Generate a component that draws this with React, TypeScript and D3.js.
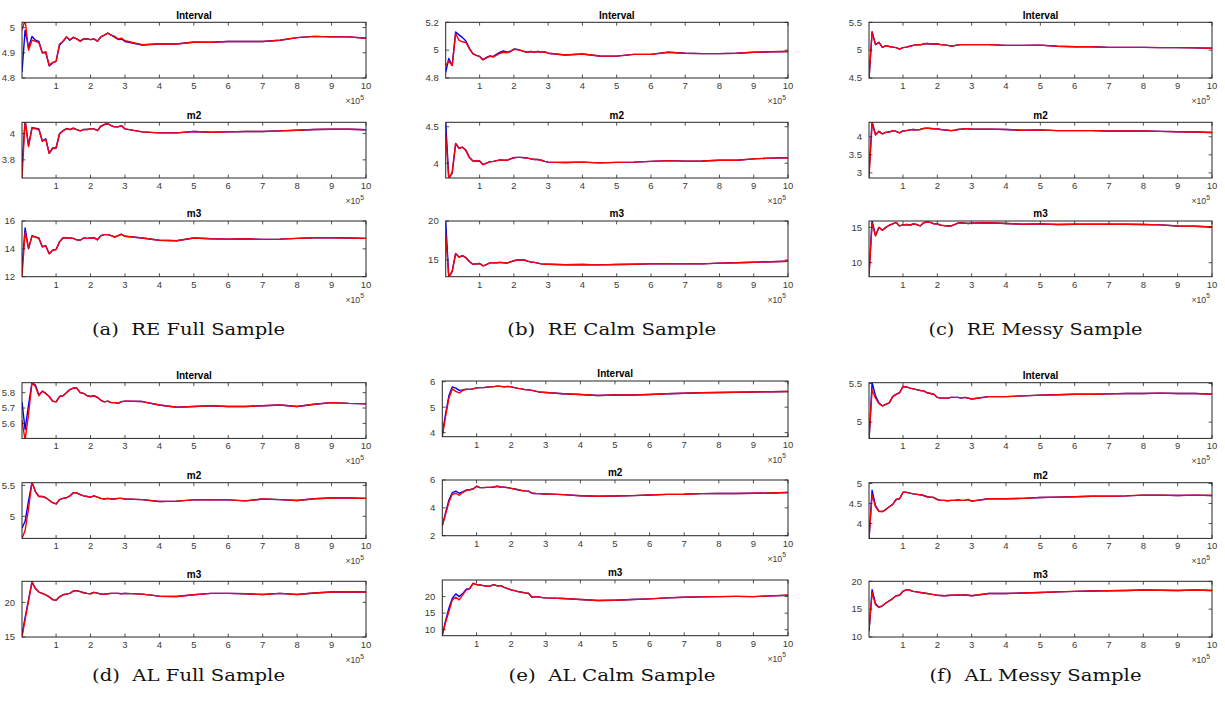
import React from "react";
import * as d3 from "d3";

// ---------- shared x samples ----------
const X = [1000, 10000, 20000, 30000, 40000, 50000, 60000, 70000, 80000, 90000, 100000, 110000, 120000, 130000, 140000, 150000, 160000, 170000, 180000, 190000, 200000, 210000, 220000, 230000, 240000, 250000, 260000, 270000, 280000, 290000, 300000, 350000, 400000, 450000, 500000, 550000, 600000, 650000, 700000, 750000, 800000, 850000, 900000, 950000, 1000000];
const xTicks = [100000, 200000, 300000, 400000, 500000, 600000, 700000, 800000, 900000, 1000000];
const xTickLabels = ["1", "2", "3", "4", "5", "6", "7", "8", "9", "10"];
const subTitles = ["Interval", "m2", "m3"];

// ---------- (a) RE Full ----------
const redAInt = [4.99, 5.03, 4.91, 4.95, 4.945, 4.94, 4.90, 4.905, 4.85, 4.862, 4.866, 4.935, 4.945, 4.963, 4.952, 4.962, 4.955, 4.945, 4.955, 4.955, 4.952, 4.955, 4.946, 4.963, 4.97, 4.978, 4.97, 4.965, 4.955, 4.958, 4.948, 4.932, 4.936, 4.935, 4.943, 4.942, 4.945, 4.945, 4.945, 4.95, 4.96, 4.965, 4.963, 4.963, 4.958];
const blueAInt = [4.824, 4.99, 4.92, 4.965, 4.95, 4.945, 4.90, 4.9, 4.848, 4.86, 4.866, 4.93, 4.945, 4.963, 4.95, 4.96, 4.955, 4.947, 4.955, 4.955, 4.952, 4.955, 4.946, 4.963, 4.97, 4.978, 4.97, 4.962, 4.953, 4.955, 4.945, 4.931, 4.935, 4.935, 4.942, 4.942, 4.945, 4.945, 4.945, 4.95, 4.96, 4.965, 4.963, 4.963, 4.958];
const redAM2 = [3.66, 4.1, 3.90, 4.04, 4.035, 4.03, 3.94, 3.955, 3.85, 3.885, 3.89, 3.995, 4.02, 4.035, 4.03, 4.04, 4.03, 4.02, 4.03, 4.03, 4.035, 4.035, 4.022, 4.055, 4.068, 4.074, 4.06, 4.05, 4.05, 4.06, 4.035, 4.012, 4.005, 4.005, 4.015, 4.01, 4.012, 4.015, 4.015, 4.02, 4.025, 4.03, 4.032, 4.032, 4.028];
const blueAM2 = [3.76, 4.1, 3.91, 4.045, 4.04, 4.035, 3.945, 3.96, 3.85, 3.89, 3.89, 4.0, 4.02, 4.038, 4.03, 4.04, 4.03, 4.02, 4.03, 4.03, 4.035, 4.035, 4.022, 4.055, 4.068, 4.074, 4.06, 4.05, 4.05, 4.06, 4.035, 4.012, 4.005, 4.005, 4.015, 4.01, 4.012, 4.015, 4.015, 4.02, 4.025, 4.03, 4.032, 4.032, 4.028];
const redAM3 = [12.0, 15.2, 14.05, 14.9, 14.85, 14.75, 14.15, 14.2, 13.65, 13.9, 13.95, 14.5, 14.78, 14.8, 14.78, 14.75, 14.65, 14.62, 14.78, 14.75, 14.78, 14.8, 14.65, 14.95, 15.02, 15.02, 14.95, 14.85, 14.95, 15.05, 14.9, 14.78, 14.62, 14.58, 14.78, 14.72, 14.7, 14.72, 14.68, 14.7, 14.75, 14.8, 14.8, 14.78, 14.75];
const blueAM3 = [12.64, 15.5, 14.0, 14.95, 14.85, 14.78, 14.15, 14.22, 13.65, 13.9, 13.95, 14.5, 14.8, 14.8, 14.78, 14.75, 14.65, 14.62, 14.78, 14.75, 14.78, 14.8, 14.65, 14.95, 15.02, 15.02, 14.95, 14.85, 14.95, 15.05, 14.9, 14.78, 14.62, 14.58, 14.78, 14.72, 14.7, 14.72, 14.68, 14.7, 14.75, 14.8, 14.8, 14.78, 14.75];

// ---------- (b) RE Calm ----------
const redBInt = [4.89, 4.92, 4.89, 5.12, 5.07, 5.06, 5.055, 5.01, 4.975, 4.962, 4.955, 4.93, 4.945, 4.955, 4.95, 4.965, 4.978, 4.985, 4.98, 4.99, 5.005, 5.005, 4.998, 4.99, 4.985, 4.99, 4.985, 4.99, 4.985, 4.988, 4.978, 4.965, 4.972, 4.958, 4.957, 4.97, 4.97, 4.985, 4.978, 4.975, 4.975, 4.978, 4.985, 4.988, 4.99];
const blueBInt = [4.84, 4.94, 4.89, 5.13, 5.11, 5.09, 5.065, 5.015, 4.975, 4.962, 4.955, 4.932, 4.948, 4.958, 4.955, 4.972, 4.985, 4.995, 4.985, 4.992, 5.008, 5.005, 4.998, 4.99, 4.985, 4.99, 4.985, 4.99, 4.985, 4.988, 4.978, 4.965, 4.972, 4.958, 4.957, 4.97, 4.97, 4.985, 4.978, 4.975, 4.975, 4.978, 4.985, 4.988, 4.99];
const redBM2 = [4.41, 3.78, 3.88, 4.27, 4.2, 4.22, 4.17, 4.08, 4.03, 4.03, 4.03, 3.98, 4.0, 4.02, 4.025, 4.035, 4.045, 4.04, 4.04, 4.06, 4.075, 4.08, 4.08, 4.075, 4.07, 4.06, 4.05, 4.05, 4.04, 4.025, 4.015, 4.01, 4.015, 4.005, 4.012, 4.015, 4.025, 4.035, 4.028, 4.03, 4.04, 4.04, 4.06, 4.07, 4.075];
const blueBM2 = [4.56, 3.80, 3.86, 4.27, 4.21, 4.22, 4.18, 4.08, 4.035, 4.03, 4.03, 3.98, 4.0, 4.02, 4.025, 4.035, 4.045, 4.04, 4.04, 4.06, 4.075, 4.08, 4.08, 4.075, 4.07, 4.06, 4.05, 4.05, 4.04, 4.025, 4.015, 4.01, 4.015, 4.005, 4.012, 4.015, 4.025, 4.035, 4.028, 4.03, 4.04, 4.04, 4.06, 4.07, 4.075];
const redBM3 = [18.4, 12.7, 13.6, 15.8, 15.35, 15.55, 15.3, 14.8, 14.45, 14.5, 14.55, 14.25, 14.4, 14.65, 14.65, 14.65, 14.7, 14.65, 14.6, 14.75, 14.9, 15.0, 15.02, 15.0, 14.85, 14.75, 14.7, 14.6, 14.5, 14.45, 14.45, 14.4, 14.42, 14.38, 14.42, 14.45, 14.5, 14.52, 14.52, 14.5, 14.6, 14.65, 14.72, 14.78, 14.85];
const blueBM3 = [20.0, 12.86, 13.5, 15.85, 15.4, 15.55, 15.3, 14.8, 14.45, 14.5, 14.55, 14.25, 14.4, 14.65, 14.65, 14.65, 14.7, 14.65, 14.6, 14.75, 14.9, 15.0, 15.02, 15.0, 14.85, 14.75, 14.7, 14.6, 14.5, 14.45, 14.45, 14.4, 14.42, 14.38, 14.42, 14.45, 14.5, 14.52, 14.52, 14.5, 14.6, 14.65, 14.72, 14.78, 14.85];

// ---------- (c) RE Messy ----------
const redCInt = [4.5, 5.32, 5.1, 5.14, 5.05, 5.08, 5.065, 5.055, 5.045, 5.02, 5.045, 5.055, 5.07, 5.085, 5.1, 5.095, 5.11, 5.12, 5.11, 5.115, 5.11, 5.1, 5.095, 5.085, 5.075, 5.08, 5.095, 5.1, 5.1, 5.1, 5.1, 5.1, 5.085, 5.085, 5.09, 5.07, 5.06, 5.06, 5.05, 5.05, 5.05, 5.045, 5.045, 5.04, 5.035];
const blueCInt = [4.48, 5.33, 5.1, 5.14, 5.05, 5.08, 5.065, 5.055, 5.045, 5.02, 5.045, 5.055, 5.07, 5.085, 5.1, 5.095, 5.11, 5.12, 5.11, 5.115, 5.11, 5.1, 5.095, 5.085, 5.075, 5.08, 5.095, 5.1, 5.1, 5.1, 5.1, 5.1, 5.085, 5.085, 5.09, 5.07, 5.06, 5.06, 5.05, 5.05, 5.05, 5.045, 5.045, 5.04, 5.035];
const redCM2 = [2.86, 4.38, 4.05, 4.15, 4.08, 4.12, 4.13, 4.17, 4.15, 4.11, 4.16, 4.17, 4.19, 4.2, 4.19, 4.2, 4.23, 4.24, 4.23, 4.22, 4.22, 4.2, 4.19, 4.18, 4.17, 4.18, 4.2, 4.21, 4.22, 4.22, 4.21, 4.21, 4.2, 4.18, 4.19, 4.17, 4.17, 4.17, 4.16, 4.16, 4.16, 4.15, 4.14, 4.13, 4.12];
const blueCM2 = [3.0, 4.42, 4.06, 4.15, 4.08, 4.12, 4.13, 4.17, 4.15, 4.11, 4.16, 4.17, 4.19, 4.2, 4.19, 4.2, 4.23, 4.24, 4.23, 4.22, 4.22, 4.2, 4.19, 4.18, 4.17, 4.18, 4.2, 4.21, 4.22, 4.22, 4.21, 4.21, 4.2, 4.18, 4.19, 4.17, 4.17, 4.17, 4.16, 4.16, 4.16, 4.15, 4.14, 4.13, 4.12];
const redCM3 = [8.0, 15.6, 13.8, 15.0, 14.6, 15.0, 15.3, 15.5, 15.7, 15.2, 15.35, 15.4, 15.3, 15.5, 15.4, 15.2, 15.65, 15.75, 15.7, 15.5, 15.5, 15.3, 15.25, 15.2, 15.2, 15.4, 15.6, 15.65, 15.6, 15.55, 15.6, 15.65, 15.55, 15.45, 15.5, 15.4, 15.45, 15.45, 15.45, 15.45, 15.4, 15.35, 15.2, 15.15, 15.05];
const blueCM3 = [8.5, 15.9, 13.85, 15.0, 14.6, 15.0, 15.3, 15.5, 15.7, 15.2, 15.35, 15.4, 15.3, 15.5, 15.4, 15.2, 15.65, 15.75, 15.7, 15.5, 15.5, 15.3, 15.25, 15.2, 15.2, 15.4, 15.6, 15.65, 15.6, 15.55, 15.6, 15.65, 15.55, 15.45, 15.5, 15.4, 15.45, 15.45, 15.45, 15.45, 15.4, 15.35, 15.2, 15.15, 15.05];

// ---------- (d) AL Full ----------
const redDInt = [5.62, 5.49, 5.66, 5.865, 5.84, 5.78, 5.81, 5.795, 5.775, 5.745, 5.74, 5.775, 5.78, 5.8, 5.82, 5.83, 5.83, 5.80, 5.795, 5.78, 5.775, 5.78, 5.77, 5.75, 5.74, 5.745, 5.735, 5.735, 5.73, 5.742, 5.745, 5.742, 5.72, 5.705, 5.71, 5.715, 5.71, 5.71, 5.715, 5.72, 5.71, 5.725, 5.735, 5.73, 5.728];
const blueDInt = [5.74, 5.56, 5.72, 5.865, 5.85, 5.785, 5.81, 5.795, 5.775, 5.745, 5.74, 5.775, 5.78, 5.8, 5.82, 5.83, 5.83, 5.80, 5.795, 5.78, 5.775, 5.78, 5.77, 5.75, 5.74, 5.745, 5.735, 5.735, 5.73, 5.742, 5.745, 5.742, 5.72, 5.705, 5.71, 5.715, 5.71, 5.71, 5.715, 5.72, 5.71, 5.725, 5.735, 5.73, 5.728];
const redDM2 = [4.644, 4.77, 5.12, 5.55, 5.4, 5.32, 5.32, 5.3, 5.26, 5.22, 5.2, 5.27, 5.29, 5.3, 5.33, 5.38, 5.38, 5.35, 5.33, 5.32, 5.31, 5.33, 5.31, 5.29, 5.28, 5.29, 5.28, 5.28, 5.29, 5.29, 5.28, 5.27, 5.24, 5.245, 5.265, 5.27, 5.265, 5.25, 5.28, 5.27, 5.255, 5.285, 5.295, 5.295, 5.29];
const blueDM2 = [4.81, 4.92, 5.25, 5.55, 5.4, 5.32, 5.32, 5.3, 5.26, 5.22, 5.2, 5.27, 5.29, 5.3, 5.33, 5.38, 5.38, 5.35, 5.33, 5.32, 5.31, 5.33, 5.31, 5.29, 5.28, 5.29, 5.28, 5.28, 5.29, 5.29, 5.28, 5.27, 5.24, 5.245, 5.265, 5.27, 5.265, 5.25, 5.28, 5.27, 5.255, 5.285, 5.295, 5.295, 5.29];
const redDM3 = [15.0, 17.5, 20.2, 22.9, 22.0, 21.5, 21.3, 21.1, 20.8, 20.4, 20.3, 20.8, 21.1, 21.2, 21.3, 21.65, 21.7, 21.55, 21.4, 21.3, 21.25, 21.45, 21.35, 21.2, 21.2, 21.25, 21.3, 21.3, 21.3, 21.25, 21.3, 21.2, 20.9, 20.85, 21.1, 21.3, 21.3, 21.25, 21.15, 21.3, 21.15, 21.35, 21.5, 21.55, 21.5];
const blueDM3 = [15.3, 17.8, 20.4, 23.0, 22.0, 21.5, 21.3, 21.1, 20.8, 20.4, 20.3, 20.8, 21.1, 21.2, 21.3, 21.65, 21.7, 21.55, 21.4, 21.3, 21.25, 21.45, 21.35, 21.2, 21.2, 21.25, 21.3, 21.3, 21.3, 21.25, 21.3, 21.2, 20.9, 20.85, 21.1, 21.3, 21.3, 21.25, 21.15, 21.3, 21.15, 21.35, 21.5, 21.55, 21.5];

// ---------- (e) AL Calm ----------
const redEInt = [3.84, 4.6, 5.35, 5.72, 5.62, 5.56, 5.65, 5.7, 5.7, 5.72, 5.76, 5.77, 5.77, 5.79, 5.8, 5.81, 5.83, 5.82, 5.8, 5.82, 5.8, 5.77, 5.74, 5.72, 5.69, 5.68, 5.66, 5.63, 5.6, 5.59, 5.58, 5.53, 5.5, 5.46, 5.48, 5.48, 5.5, 5.53, 5.55, 5.57, 5.58, 5.59, 5.6, 5.61, 5.62];
const blueEInt = [3.95, 4.7, 5.45, 5.8, 5.75, 5.66, 5.68, 5.71, 5.7, 5.72, 5.76, 5.77, 5.77, 5.79, 5.8, 5.81, 5.83, 5.82, 5.8, 5.82, 5.8, 5.77, 5.74, 5.72, 5.69, 5.68, 5.66, 5.63, 5.6, 5.59, 5.58, 5.53, 5.5, 5.46, 5.48, 5.48, 5.5, 5.53, 5.55, 5.57, 5.58, 5.59, 5.6, 5.61, 5.62];
const redEM2 = [2.7, 3.5, 4.4, 4.97, 5.05, 4.9, 5.1, 5.25, 5.3, 5.35, 5.55, 5.45, 5.45, 5.47, 5.47, 5.5, 5.55, 5.48, 5.48, 5.45, 5.4, 5.35, 5.3, 5.25, 5.22, 5.2, 5.05, 5.03, 5.02, 5.0, 5.0, 4.95, 4.87, 4.83, 4.85, 4.88, 4.92, 4.97, 4.98, 5.02, 5.03, 5.03, 5.05, 5.07, 5.1];
const blueEM2 = [2.75, 3.6, 4.55, 5.1, 5.2, 5.05, 5.15, 5.28, 5.3, 5.35, 5.55, 5.45, 5.45, 5.47, 5.47, 5.5, 5.55, 5.48, 5.48, 5.45, 5.4, 5.35, 5.3, 5.25, 5.22, 5.2, 5.05, 5.03, 5.02, 5.0, 5.0, 4.95, 4.87, 4.83, 4.85, 4.88, 4.92, 4.97, 4.98, 5.02, 5.03, 5.03, 5.05, 5.07, 5.1];
const redEM3 = [8.2, 12.0, 15.5, 19.0, 19.8, 19.0, 20.5, 22.0, 22.3, 24.0, 23.6, 23.5, 23.3, 23.1, 23.2, 23.6, 23.2, 23.3, 22.8, 22.4, 22.0, 21.8, 21.5, 21.3, 21.1, 21.0, 19.8, 19.9, 19.9, 19.7, 19.6, 19.4, 19.1, 18.8, 18.9, 19.1, 19.3, 19.6, 19.8, 19.9, 20.0, 20.05, 20.0, 20.2, 20.4];
const blueEM3 = [8.5, 12.5, 16.5, 19.5, 20.8, 20.0, 20.9, 22.2, 22.4, 24.0, 23.6, 23.5, 23.3, 23.1, 23.2, 23.6, 23.2, 23.3, 22.8, 22.4, 22.0, 21.8, 21.5, 21.3, 21.1, 21.0, 19.8, 19.9, 19.9, 19.7, 19.6, 19.4, 19.1, 18.8, 18.9, 19.1, 19.3, 19.6, 19.8, 19.9, 20.0, 20.05, 20.0, 20.2, 20.4];

// ---------- (f) AL Messy ----------
const redFInt = [4.79, 5.42, 5.31, 5.24, 5.21, 5.23, 5.25, 5.33, 5.36, 5.38, 5.46, 5.455, 5.44, 5.43, 5.42, 5.41, 5.405, 5.38, 5.37, 5.36, 5.32, 5.31, 5.31, 5.31, 5.32, 5.32, 5.32, 5.31, 5.32, 5.31, 5.30, 5.33, 5.33, 5.34, 5.35, 5.355, 5.36, 5.36, 5.365, 5.37, 5.37, 5.375, 5.37, 5.37, 5.36];
const blueFInt = [4.75, 5.51, 5.34, 5.25, 5.21, 5.23, 5.25, 5.33, 5.36, 5.38, 5.46, 5.455, 5.44, 5.43, 5.42, 5.41, 5.405, 5.38, 5.37, 5.36, 5.32, 5.31, 5.31, 5.31, 5.32, 5.32, 5.32, 5.31, 5.32, 5.31, 5.30, 5.33, 5.33, 5.34, 5.35, 5.355, 5.36, 5.36, 5.365, 5.37, 5.37, 5.375, 5.37, 5.37, 5.36];
const redFM2 = [3.63, 4.72, 4.42, 4.3, 4.3, 4.35, 4.42, 4.48, 4.6, 4.62, 4.78, 4.78, 4.76, 4.74, 4.73, 4.72, 4.7, 4.67, 4.66, 4.65, 4.6, 4.58, 4.58, 4.57, 4.58, 4.58, 4.59, 4.58, 4.58, 4.6, 4.56, 4.62, 4.62, 4.63, 4.65, 4.66, 4.67, 4.68, 4.68, 4.69, 4.71, 4.71, 4.7, 4.71, 4.7];
const blueFM2 = [3.6, 4.83, 4.45, 4.31, 4.3, 4.35, 4.42, 4.48, 4.6, 4.62, 4.78, 4.78, 4.76, 4.74, 4.73, 4.72, 4.7, 4.67, 4.66, 4.65, 4.6, 4.58, 4.58, 4.57, 4.58, 4.58, 4.59, 4.58, 4.58, 4.6, 4.56, 4.62, 4.62, 4.63, 4.65, 4.66, 4.67, 4.68, 4.68, 4.69, 4.71, 4.71, 4.7, 4.71, 4.7];
const redFM3 = [11.2, 18.0, 15.8, 15.3, 15.6, 16.1, 16.5, 16.9, 17.4, 17.5, 18.2, 18.5, 18.4, 18.2, 18.1, 18.0, 17.9, 17.8, 17.7, 17.6, 17.5, 17.45, 17.4, 17.45, 17.5, 17.5, 17.55, 17.5, 17.55, 17.5, 17.4, 17.8, 17.8, 17.9, 18.0, 18.1, 18.2, 18.25, 18.3, 18.35, 18.45, 18.4, 18.35, 18.45, 18.35];
const blueFM3 = [11.0, 18.5, 16.0, 15.35, 15.6, 16.1, 16.5, 16.9, 17.4, 17.5, 18.2, 18.5, 18.4, 18.2, 18.1, 18.0, 17.9, 17.8, 17.7, 17.6, 17.5, 17.45, 17.4, 17.45, 17.5, 17.5, 17.55, 17.5, 17.55, 17.5, 17.4, 17.8, 17.8, 17.9, 18.0, 18.1, 18.2, 18.25, 18.3, 18.35, 18.45, 18.4, 18.35, 18.45, 18.35];

// ---------- y domains and ticks ----------
const yDomains = {
  a: [[4.8, 5.021], [3.662, 4.085], [12, 16]],
  b: [[4.8, 5.2], [3.797, 4.561], [12.86, 20]],
  c: [[4.5, 5.5], [2.86, 4.4], [8.02, 15.9]],
  d: [[5.502, 5.865], [4.644, 5.543], [15, 23.05]],
  e: [[3.84, 6.03], [2, 6], [8.2, 25]],
  f: [[4.79, 5.51], [3.63, 5.02], [10, 20]],
};
const yTicks = {
  a: [[4.8, 4.9, 5], [3.8, 4], [12, 14, 16]],
  b: [[4.8, 5, 5.2], [4, 4.5], [15, 20]],
  c: [[4.5, 5, 5.5], [3, 3.5, 4], [10, 15]],
  d: [[5.6, 5.7, 5.8], [5, 5.5], [15, 20]],
  e: [[4, 5, 6], [2, 4, 6], [10, 15, 20]],
  f: [[5, 5.5], [4, 4.5, 5], [10, 15, 20]],
};
const captions = {
  a: "(a)  RE Full Sample",
  b: "(b)  RE Calm Sample",
  c: "(c)  RE Messy Sample",
  d: "(d)  AL Full Sample",
  e: "(e)  AL Calm Sample",
  f: "(f)  AL Messy Sample",
};
const redSeries = {
  a: [redAInt, redAM2, redAM3], b: [redBInt, redBM2, redBM3], c: [redCInt, redCM2, redCM3],
  d: [redDInt, redDM2, redDM3], e: [redEInt, redEM2, redEM3], f: [redFInt, redFM2, redFM3],
};
const blueSeries = {
  a: [blueAInt, blueAM2, blueAM3], b: [blueBInt, blueBM2, blueBM3], c: [blueCInt, blueCM2, blueCM3],
  d: [blueDInt, blueDM2, blueDM3], e: [blueEInt, blueEM2, blueEM3], f: [blueFInt, blueFM2, blueFM3],
};

// ---------- layout ----------
const layout = {
  a: { left: 22, width: 344, tops: [22.3, 122.3, 221], capX: 188.5, capY: 335, capW: 193 },
  b: { left: 445.7, width: 342.3, tops: [22.3, 122.3, 221], capX: 611.7, capY: 335, capW: 209 },
  c: { left: 869, width: 343, tops: [22.3, 122.3, 221], capX: 1035.5, capY: 335, capW: 214 },
  d: { left: 22, width: 344, tops: [382.7, 482.7, 581.3], capX: 188.5, capY: 680.5, capW: 193 },
  e: { left: 442.3, width: 345.7, tops: [381, 480, 580], capX: 612, capY: 680.5, capW: 207 },
  f: { left: 869, width: 343, tops: [382.7, 482.7, 581.3], capX: 1035.5, capY: 680.5, capW: 212 },
};
const AX_H = 55.7;
const AXIS_COLOR = "#262626";
const TICK_LEN = 3.4;
const SANS = "'Liberation Sans', Arial, Helvetica, sans-serif";

function SubPlot({ id, idx }) {
  const L = layout[id];
  const top = L.tops[idx];
  const x0 = L.left;
  const x1 = L.left + L.width;
  const y1 = top + AX_H;
  const xs = d3.scaleLinear().domain([X[0], X[X.length - 1]]).range([x0, x1]);
  const ys = d3.scaleLinear().domain(yDomains[id][idx]).range([y1, top]);
  const line = d3.line().x((d) => xs(d[0])).y((d) => ys(d[1]));
  const red = X.map((x, i) => [x, redSeries[id][idx][i]]);
  const blue = X.map((x, i) => [x, blueSeries[id][idx][i]]);
  const clipId = `clip-${id}-${idx}`;
  return (
    <g>
      <defs>
        <clipPath id={clipId}>
          <rect x={x0} y={top} width={x1 - x0} height={AX_H} />
        </clipPath>
      </defs>
      <g clipPath={`url(#${clipId})`}>
        <path d={line(blue)} fill="none" stroke="#0000ff" strokeWidth={1.4} strokeLinejoin="round" />
        <path d={line(red)} fill="none" stroke="#ff0000" strokeWidth={1.4} strokeLinejoin="round" />
      </g>
      {xTicks.map((t, i) => (
        <g key={"xt" + i}>
          <line x1={xs(t)} x2={xs(t)} y1={y1} y2={y1 - TICK_LEN} stroke={AXIS_COLOR} strokeWidth={0.8} />
          <line x1={xs(t)} x2={xs(t)} y1={top} y2={top + TICK_LEN} stroke={AXIS_COLOR} strokeWidth={0.8} />
          <text x={xs(t)} y={y1 + 11} textAnchor="middle" fontFamily={SANS} fontSize={9.5} fill="#3a3a3a">
            {xTickLabels[i]}
          </text>
        </g>
      ))}
      {yTicks[id][idx].map((t, i) => (
        <g key={"yt" + i}>
          <line x1={x0} x2={x0 + TICK_LEN} y1={ys(t)} y2={ys(t)} stroke={AXIS_COLOR} strokeWidth={0.8} />
          <line x1={x1} x2={x1 - TICK_LEN} y1={ys(t)} y2={ys(t)} stroke={AXIS_COLOR} strokeWidth={0.8} />
          <text x={x0 - 7} y={ys(t)} dy="0.35em" textAnchor="end" fontFamily={SANS} fontSize={9.5} fill="#3a3a3a">
            {String(t)}
          </text>
        </g>
      ))}
      <rect x={x0} y={top} width={x1 - x0} height={AX_H} fill="none" stroke={AXIS_COLOR} strokeWidth={1} />
      <text x={(x0 + x1) / 2} y={top - 3.6} textAnchor="middle" fontFamily={SANS} fontWeight="bold" fontSize={10} fill="#000">
        {subTitles[idx]}
      </text>
      <text x={x1 - 2} y={y1 + 26} textAnchor="end" fontFamily={SANS} fontSize={8.7} fill="#3a3a3a">
        {"\u00d710"}
        <tspan dy={-4.5} fontSize={6.8}>5</tspan>
      </text>
    </g>
  );
}

export default function App() {
  const ids = ["a", "b", "c", "d", "e", "f"];
  return (
    <svg width={1225} height={703} style={{ position: "absolute", left: 0, top: 0, background: "#fff" }}>
      <rect x={0} y={0} width={1225} height={703} fill="#fff" />
      {ids.map((id) => (
        <g key={id}>
          {[0, 1, 2].map((k) => (
            <SubPlot key={k} id={id} idx={k} />
          ))}
          <text
            x={layout[id].capX}
            y={layout[id].capY}
            textAnchor="middle"
            fontFamily="'DejaVu Serif', serif"
            fontSize={16.5}
            fill="#111"
            textLength={layout[id].capW}
            lengthAdjust="spacingAndGlyphs"
            xmlSpace="preserve"
          >
            {captions[id]}
          </text>
        </g>
      ))}
    </svg>
  );
}
